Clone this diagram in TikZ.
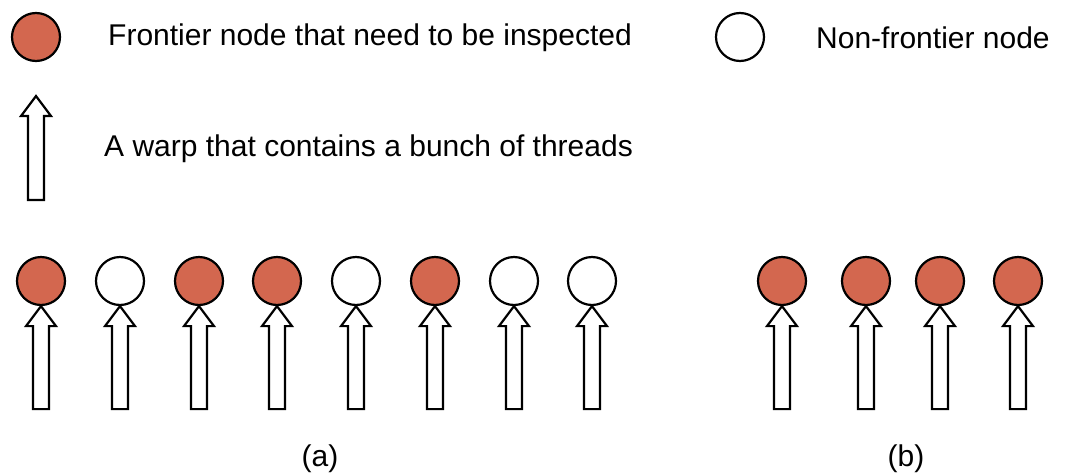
\documentclass[tikz,border=0pt]{standalone}
\usepackage{fontspec}
\setmainfont{Liberation Sans}
\definecolor{frontier}{RGB}{211,103,79}
\tikzset{
  vertex/.style={circle, draw=black, line width=2.2pt, minimum size=48pt, inner sep=0pt},
  front/.style={vertex, fill=frontier},
  plain/.style={vertex, fill=white},
  label/.style={font=\fontsize{30}{36}\selectfont, inner sep=0pt},
  warpline/.style={draw=black, fill=white, line width=2.2pt, line join=miter},
  pics/warp/.style={code={
    \draw[warpline] (0,0) -- (15,20) -- (8,20) -- (8,#1) -- (-8,#1) -- (-8,20) -- (-15,20) -- cycle;
  }}
}
\begin{document}
\begin{tikzpicture}[x=1pt, y=-1pt]
\useasboundingbox (0,0) rectangle (1067,474);

% legend
\node[front] (lf) at (36,37) {};
\node[label, anchor=west] (lft) at (108,38) {Frontier node that need to be inspected};
\node[plain] (ln) at (740,37) {};
\node[label, anchor=west] (lnt) at (816,38) {Non-frontier node};
\coordinate (lw) at (36,96);
\pic at (lw) {warp=104};
\node[label, anchor=west] (lwt) at (104,149) {A warp that contains a bunch of threads};

% (a): eight nodes, each inspected by its own warp
\foreach \i/\x/\s in {1/41/front, 2/120/plain, 3/199/front, 4/277/front,
                       5/356/plain, 6/435/front, 7/514/plain, 8/592/plain} {
  \node[\s] (a\i) at (\x,281) {};
  \pic at (a\i.south) {warp=103};
}
\node[label] (capa) at (320,459) {(a)};

% (b): only the frontier nodes, packed
\foreach \i/\x in {1/782, 2/866, 3/940, 4/1018} {
  \node[front] (b\i) at (\x,281) {};
  \pic at (b\i.south) {warp=103};
}
\node[label] (capb) at (906,459) {(b)};
\end{tikzpicture}
\end{document}
